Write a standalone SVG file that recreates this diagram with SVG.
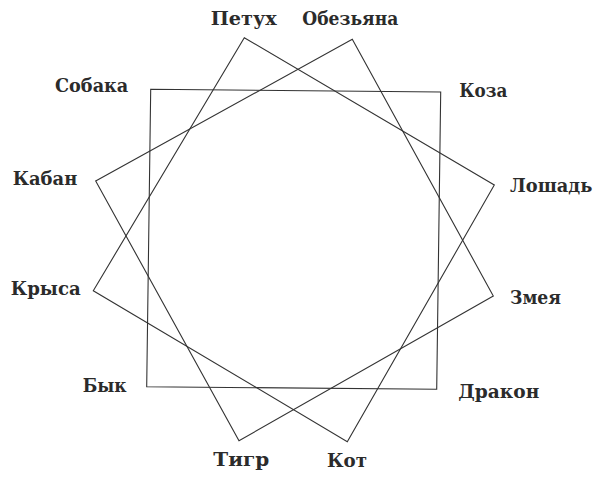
<svg xmlns="http://www.w3.org/2000/svg" width="600" height="477" viewBox="0 0 600 477">
<style>
.l{font-family:"DejaVu Serif","Liberation Serif",serif;font-weight:bold;font-size:18px;fill:#2b2b2b}
.s{fill:none;stroke:#333;stroke-width:1.1;stroke-linejoin:miter}
</style>
<rect width="600" height="477" fill="#fff"/>
<g id="connectors">
<polygon id="sq1" class="s" points="150.7,89.3 440.7,92 436.7,389.3 146.7,386.7"/>
<polygon id="sq2" class="s" points="244.3,37.7 494.3,185 347.3,441.7 93.3,290.7"/>
<polygon id="sq3" class="s" points="352.3,39.3 493.3,296 239,440.7 95.7,181"/>
</g>
<g id="n-petukh"><text class="l" x="210.7" y="25" textLength="66" lengthAdjust="spacingAndGlyphs">Петух</text></g>
<g id="n-obezyana"><text class="l" x="302.3" y="25" textLength="96" lengthAdjust="spacingAndGlyphs">Обезьяна</text></g>
<g id="n-sobaka"><text class="l" x="55" y="92.3" textLength="73.3" lengthAdjust="spacingAndGlyphs">Собака</text></g>
<g id="n-koza"><text class="l" x="459.3" y="97.3" textLength="48" lengthAdjust="spacingAndGlyphs">Коза</text></g>
<g id="n-kaban"><text class="l" x="12.7" y="185" textLength="64.6" lengthAdjust="spacingAndGlyphs">Кабан</text></g>
<g id="n-loshad"><text class="l" x="510" y="192" textLength="82.3" lengthAdjust="spacingAndGlyphs">Лошадь</text></g>
<g id="n-krysa"><text class="l" x="10.7" y="295" textLength="70" lengthAdjust="spacingAndGlyphs">Крыса</text></g>
<g id="n-zmeya"><text class="l" x="510" y="304.3" textLength="51" lengthAdjust="spacingAndGlyphs">Змея</text></g>
<g id="n-byk"><text class="l" x="82.7" y="391.7" textLength="44" lengthAdjust="spacingAndGlyphs">Бык</text></g>
<g id="n-drakon"><text class="l" x="458.3" y="398.3" textLength="81" lengthAdjust="spacingAndGlyphs">Дракон</text></g>
<g id="n-tigr"><text class="l" x="213.3" y="466" textLength="56" lengthAdjust="spacingAndGlyphs">Тигр</text></g>
<g id="n-kot"><text class="l" x="327" y="467" textLength="40" lengthAdjust="spacingAndGlyphs">Кот</text></g>
</svg>
